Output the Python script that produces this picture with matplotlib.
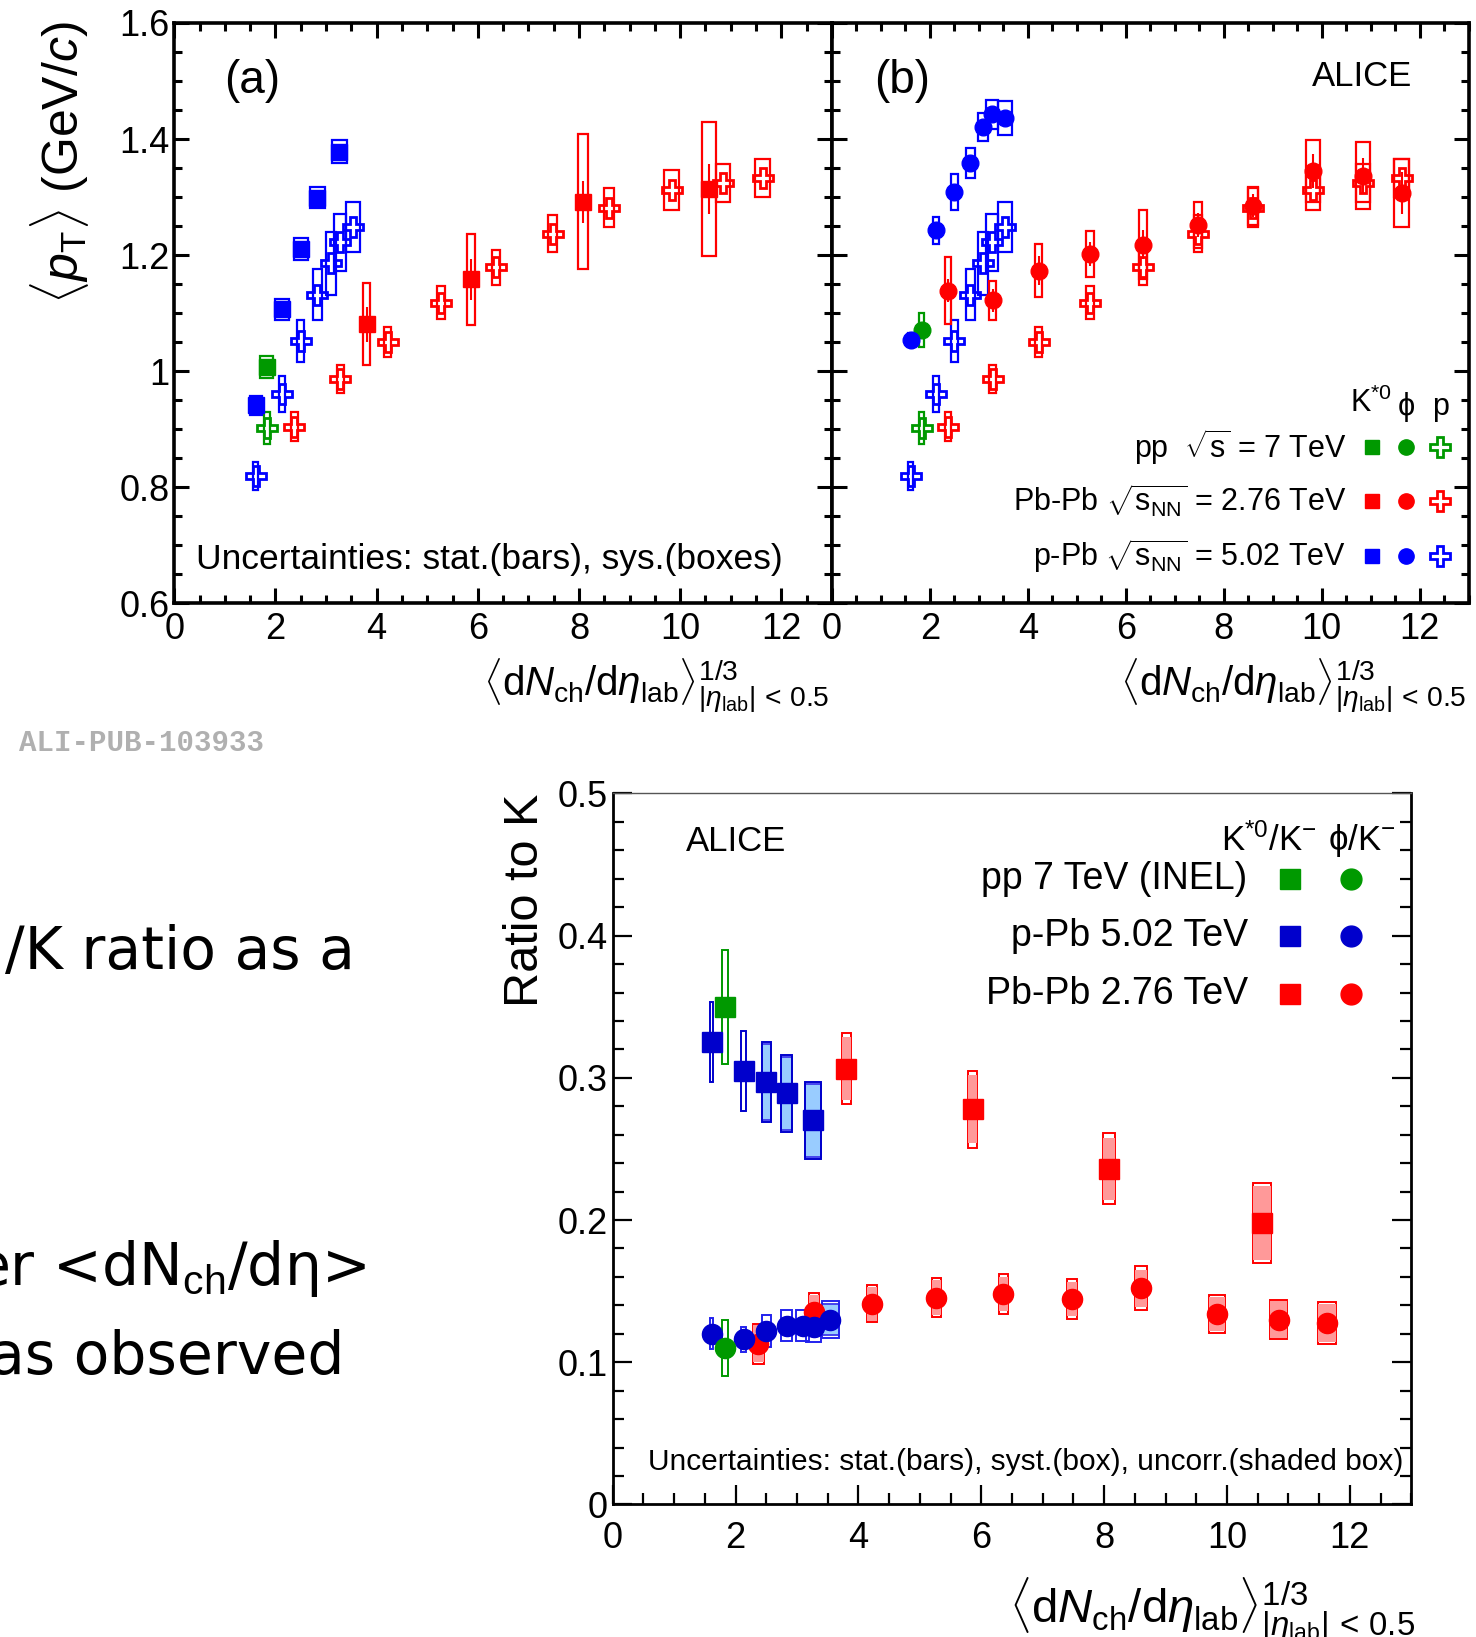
import numpy as np
import matplotlib
matplotlib.use("Agg")
import matplotlib.pyplot as plt
from matplotlib.patches import Rectangle
from matplotlib.ticker import MultipleLocator, FuncFormatter

plt.rcParams['font.family'] = ['Liberation Sans', 'DejaVu Sans']
plt.rcParams['mathtext.fontset'] = 'custom'
plt.rcParams['mathtext.rm'] = 'Liberation Sans'
plt.rcParams['mathtext.it'] = 'Liberation Sans:italic'
plt.rcParams['mathtext.bf'] = 'Liberation Sans:bold'

# ---------------- data: <pT> vs multiplicity ----------------
# x = <dNch/deta>^(1/3)
pp_x = [1.83]
pPb_x = [1.61, 2.13, 2.50, 2.83, 3.09, 3.27, 3.54]
pPb_xK = [1.61, 2.13, 2.50, 2.83, 3.26]
PbPb_x = [2.37, 3.28, 4.22, 5.27, 6.36, 7.48, 8.60, 9.83, 10.84, 11.63]
PbPb_xK = [3.80, 5.86, 8.08, 10.57]

# x systematic half-widths (multiplicity uncertainty)
pp_dx = [0.06]
pp_dxK = [0.13]
pPb_dx = [0.05, 0.06, 0.07, 0.09, 0.10, 0.12, 0.14]
pPb_dxK = [0.12, 0.13, 0.14, 0.14, 0.15]
PbPb_dx = [0.07, 0.07, 0.07, 0.075, 0.08, 0.085, 0.10, 0.14, 0.14, 0.15]
PbPb_dxK = [0.075, 0.08, 0.105, 0.14]

# K*0 <pT>
pp_K = [1.008]
pp_K_sys = [0.019]
pPb_K = [0.941, 1.107, 1.210, 1.299, 1.378]
pPb_K_sys = [0.017, 0.018, 0.019, 0.018, 0.020]
PbPb_K = [1.081, 1.158, 1.292, 1.314]
PbPb_K_sys = [0.071, 0.078, 0.116, 0.115]
PbPb_K_stat = [0.030, 0.035, 0.036, 0.043]

# phi <pT>
pp_phi = [1.071]
pp_phi_sys = [0.030]
pPb_phi = [1.054, 1.243, 1.309, 1.358, 1.421, 1.443, 1.436]
pPb_phi_sys = [0.012, 0.023, 0.031, 0.026, 0.024, 0.025, 0.029]
PbPb_phi = [1.139, 1.122, 1.173, 1.202, 1.218, 1.252, 1.285, 1.345, 1.337, 1.307]
PbPb_phi_sys = [0.057, 0.034, 0.046, 0.039, 0.059, 0.040, 0.033, 0.053, 0.057, 0.059]
PbPb_phi_stat = [0.020, 0.020, 0.025, 0.020, 0.025, 0.020, 0.020, 0.030, 0.030, 0.037]

# proton <pT>
pp_p = [0.902]
pp_p_sys = [0.028]
pPb_p = [0.820, 0.961, 1.052, 1.132, 1.186, 1.222, 1.249]
pPb_p_sys = [0.024, 0.031, 0.036, 0.044, 0.054, 0.049, 0.043]
PbPb_p = [0.904, 0.987, 1.050, 1.118, 1.179, 1.237, 1.282, 1.312, 1.324, 1.333]
PbPb_p_sys = [0.025, 0.024, 0.026, 0.028, 0.030, 0.032, 0.033, 0.034, 0.033, 0.033]

# ---------------- data: ratios to K ----------------
pp_Kr = [0.350]
pp_Kr_sys = [0.040]
pp_phr = [0.110]
pp_phr_sys = [0.020]
pp_rdx = [0.05]

pPb_Kr = [0.325, 0.305, 0.297, 0.289, 0.270]
pPb_Kr_sys = [0.028, 0.028, 0.028, 0.027, 0.027]
pPb_Kr_unc = [0.0, 0.0, 0.027, 0.026, 0.026]
pPb_Kr_dx = [0.03, 0.045, 0.07, 0.09, 0.125]

pPb_phr = [0.120, 0.116, 0.122, 0.1256, 0.1256, 0.125, 0.130]
pPb_phr_sys = [0.011, 0.009, 0.011, 0.011, 0.011, 0.011, 0.013]
pPb_phr_unc = [0.0, 0.0, 0.0, 0.0, 0.0, 0.0, 0.011]
pPb_phr_dx = [0.03, 0.04, 0.07, 0.09, 0.11, 0.12, 0.14]

PbPb_Kr = [0.3065, 0.278, 0.236, 0.198]
PbPb_Kr_sys = [0.025, 0.027, 0.025, 0.028]
PbPb_Kr_unc = [0.022, 0.024, 0.022, 0.026]
PbPb_Kr_dx = [0.072, 0.072, 0.10, 0.14]

PbPb_phr = [0.113, 0.135, 0.141, 0.1455, 0.148, 0.1445, 0.152, 0.134, 0.130, 0.1275]
PbPb_phr_sys = [0.014, 0.014, 0.013, 0.014, 0.014, 0.014, 0.0155, 0.0135, 0.014, 0.0145]
PbPb_phr_unc = [0.013, 0.012, 0.012, 0.012, 0.012, 0.012, 0.013, 0.012, 0.013, 0.0135]
PbPb_phr_dx = [0.085, 0.08, 0.075, 0.075, 0.08, 0.085, 0.10, 0.13, 0.14, 0.145]

# colours
BLUE, GREEN, RED = '#0000ff', '#009900', '#ff0000'
DBLUE = '#0000cc'
LBLUE, LRED = '#99ccff', '#ff9999'


def boxes(ax, x, y, dx, dy, ec, fc='none', lw=1.6, z=2):
    for xi, yi, a, b in zip(x, y, dx, dy):
        if b <= 0:
            continue
        ax.add_patch(Rectangle((xi - a, yi - b), 2 * a, 2 * b, facecolor=fc,
                               edgecolor=ec, lw=lw, zorder=z))


def style(ax, xminor, ymajor, yminor, lw, maj, mnr, size):
    ax.set_xlim(0, 13)
    ax.xaxis.set_major_locator(MultipleLocator(2))
    ax.xaxis.set_minor_locator(MultipleLocator(xminor))
    ax.yaxis.set_major_locator(MultipleLocator(ymajor))
    ax.yaxis.set_minor_locator(MultipleLocator(yminor))
    ax.yaxis.set_major_formatter(FuncFormatter(lambda v, p: '%g' % round(v, 3)))
    ax.tick_params(which='both', direction='in', top=True, right=True, width=lw)
    ax.tick_params(which='major', length=maj, labelsize=size)
    ax.tick_params(which='minor', length=mnr)
    for s in ax.spines.values():
        s.set_linewidth(lw + 0.4)


fig = plt.figure(figsize=(14.76, 16.37), dpi=100)

ax_a = fig.add_axes([0.1181, 0.6314, 0.4455, 0.3546])
ax_b = fig.add_axes([0.5636, 0.6314, 0.4314, 0.3546])
ax_c = fig.add_axes([0.4151, 0.0810, 0.5411, 0.4343])

for ax in (ax_a, ax_b):
    ax.set_ylim(0.6, 1.6)
    style(ax, 0.5, 0.2, 0.05, 2.2, 11, 6, 26)
    ax.tick_params(axis='x', pad=6)
ax_b.tick_params(axis='y', labelleft=False)

# protons in both top panels
for ax in (ax_a, ax_b):
    boxes(ax, pp_x, pp_p, pp_dx, pp_p_sys, GREEN)
    boxes(ax, pPb_x, pPb_p, pPb_dx, pPb_p_sys, BLUE)
    boxes(ax, PbPb_x, PbPb_p, PbPb_dx, PbPb_p_sys, RED)
    ax.plot(pp_x, pp_p, 'P', ms=14, mfc='none', mec=GREEN, mew=2, zorder=4)
    ax.plot(pPb_x, pPb_p, 'P', ms=14, mfc='none', mec=BLUE, mew=2, zorder=4)
    ax.plot(PbPb_x, PbPb_p, 'P', ms=14, mfc='none', mec=RED, mew=2, zorder=4)

# (a) K*0
boxes(ax_a, pp_x, pp_K, pp_dxK, pp_K_sys, GREEN)
boxes(ax_a, pPb_xK, pPb_K, pPb_dxK, pPb_K_sys, BLUE)
boxes(ax_a, PbPb_xK, PbPb_K, PbPb_dxK, PbPb_K_sys, RED)
ax_a.errorbar(PbPb_xK, PbPb_K, yerr=PbPb_K_stat, fmt='none', ecolor=RED, elinewidth=1.5, zorder=3)
ax_a.plot(pp_x, pp_K, 's', ms=11, color=GREEN, zorder=5)
ax_a.plot(pPb_xK, pPb_K, 's', ms=11, color=BLUE, zorder=5)
ax_a.plot(PbPb_xK, PbPb_K, 's', ms=11, color=RED, zorder=5)

# (b) phi
boxes(ax_b, pp_x, pp_phi, pp_dx, pp_phi_sys, GREEN)
boxes(ax_b, pPb_x, pPb_phi, pPb_dx, pPb_phi_sys, BLUE)
boxes(ax_b, PbPb_x, PbPb_phi, PbPb_dx, PbPb_phi_sys, RED)
ax_b.errorbar(PbPb_x, PbPb_phi, yerr=PbPb_phi_stat, fmt='none', ecolor=RED, elinewidth=1.5, zorder=3)
ax_b.plot(pp_x, pp_phi, 'o', ms=12, color=GREEN, zorder=5)
ax_b.plot(pPb_x, pPb_phi, 'o', ms=12, color=BLUE, zorder=5)
ax_b.plot(PbPb_x, PbPb_phi, 'o', ms=12, color=RED, zorder=5)

ax_a.text(0.119, 0.90, '(a)', transform=ax_a.transAxes, fontsize=33, va='center', ha='center')
ax_b.text(0.111, 0.90, '(b)', transform=ax_b.transAxes, fontsize=33, va='center', ha='center')
ax_b.text(0.833, 0.908, 'ALICE', transform=ax_b.transAxes, fontsize=25, ha='center', va='center')
ax_a.text(0.033, 0.075, 'Uncertainties: stat.(bars), sys.(boxes)', transform=ax_a.transAxes,
          fontsize=25.5, ha='left', va='center')

# legend of panel (b)
lx = [0.8475, 0.9016, 0.9557]
ly = [0.2698, 0.1763, 0.0809]
ax_b.text(0.808, ly[0], r'pp  $\sqrt{\mathrm{s}}$ = 7 TeV', transform=ax_b.transAxes, fontsize=22, ha='right', va='center')
ax_b.text(0.808, ly[1], r'Pb-Pb $\sqrt{\mathrm{s}_{\rm NN}}$ = 2.76 TeV', transform=ax_b.transAxes, fontsize=22, ha='right', va='center')
ax_b.text(0.808, ly[2], r'p-Pb $\sqrt{\mathrm{s}_{\rm NN}}$ = 5.02 TeV', transform=ax_b.transAxes, fontsize=22, ha='right', va='center')
ax_b.text(lx[0], 0.345, r'K$^{*0}$', transform=ax_b.transAxes, fontsize=22, ha='center', va='center')
ax_b.text(lx[1], 0.338, 'ϕ', transform=ax_b.transAxes, fontsize=22, ha='center', va='center')
ax_b.text(lx[2], 0.338, 'p', transform=ax_b.transAxes, fontsize=22, ha='center', va='center')
for yy, cc in zip(ly, [GREEN, RED, BLUE]):
    ax_b.plot([lx[0]], [yy], 's', ms=10, color=cc, transform=ax_b.transAxes, clip_on=False)
    ax_b.plot([lx[1]], [yy], 'o', ms=11, color=cc, transform=ax_b.transAxes, clip_on=False)
    ax_b.plot([lx[2]], [yy], 'P', ms=14, mfc='none', mec=cc, mew=2, transform=ax_b.transAxes, clip_on=False)

xlab = r'$\langle {\rm d}N_{\rm ch}/{\rm d}\eta_{\rm lab}\rangle^{1/3}_{|\eta_{\rm lab}|\,<\,0.5}$'
fig.text(0.5622, 0.574, xlab, fontsize=29, ha='right', va='baseline')
fig.text(0.9936, 0.574, xlab, fontsize=29, ha='right', va='baseline')
fig.text(0.040, 0.987, r'$\langle p_{\rm T}\rangle$ (GeV/$c$)', fontsize=36, rotation=90, ha='center', va='top')

# ---------------- bottom panel: ratios ----------------
ax_c.set_ylim(0, 0.5)
style(ax_c, 0.5, 0.1, 0.02, 1.6, 14, 8, 26)
ax_c.tick_params(which='both', top=False)
ax_c.spines['top'].set_linewidth(1.0)
ax_c.spines['top'].set_color('#555555')
ax_c.tick_params(axis='x', pad=12)

boxes(ax_c, pp_x, pp_Kr, pp_rdx, pp_Kr_sys, GREEN, lw=1.4)
boxes(ax_c, pp_x, pp_phr, pp_rdx, pp_phr_sys, GREEN, lw=1.4)
boxes(ax_c, pPb_xK, pPb_Kr, pPb_Kr_dx, pPb_Kr_unc, '#4444ee', fc=LBLUE, lw=1.4)
boxes(ax_c, pPb_xK, pPb_Kr, pPb_Kr_dx, pPb_Kr_sys, DBLUE, lw=1.4)
boxes(ax_c, pPb_x, pPb_phr, pPb_phr_dx, pPb_phr_unc, '#4444ee', fc=LBLUE, lw=1.4)
boxes(ax_c, pPb_x, pPb_phr, pPb_phr_dx, pPb_phr_sys, '#2222ee', lw=1.4)
boxes(ax_c, PbPb_xK, PbPb_Kr, PbPb_Kr_dx, PbPb_Kr_sys, RED, lw=1.4)
boxes(ax_c, PbPb_xK, PbPb_Kr, PbPb_Kr_dx, PbPb_Kr_unc, 'none', fc=LRED, lw=1.4)
boxes(ax_c, PbPb_x, PbPb_phr, PbPb_phr_dx, PbPb_phr_sys, RED, lw=1.4)
boxes(ax_c, PbPb_x, PbPb_phr, PbPb_phr_dx, PbPb_phr_unc, 'none', fc=LRED, lw=1.4)

ax_c.plot(pp_x, pp_Kr, 's', ms=14, color=GREEN, zorder=5)
ax_c.plot(pPb_xK, pPb_Kr, 's', ms=14, color=DBLUE, zorder=5)
ax_c.plot(PbPb_xK, PbPb_Kr, 's', ms=14, color=RED, zorder=5)
ax_c.plot(PbPb_x, PbPb_phr, 'o', ms=14.5, color=RED, zorder=5)
ax_c.plot(pPb_x, pPb_phr, 'o', ms=14.5, color=DBLUE, zorder=6)
ax_c.plot(pp_x, pp_phr, 'o', ms=14.5, color=GREEN, zorder=6)

ax_c.text(0.154, 0.932, 'ALICE', transform=ax_c.transAxes, fontsize=25, ha='center', va='center')
ax_c.text(0.821, 0.934, r'K$^{*0}$/K$^{-}$', transform=ax_c.transAxes, fontsize=25, ha='center', va='center')
ax_c.text(0.9386, 0.934, r'ϕ/K$^{-}$', transform=ax_c.transAxes, fontsize=25, ha='center', va='center')
rlx = [0.848, 0.925]
rly = [0.8796, 0.7988, 0.718]
for yy, lab, cc in zip(rly, ['pp 7 TeV (INEL)', 'p-Pb 5.02 TeV', 'Pb-Pb 2.76 TeV'], [GREEN, DBLUE, RED]):
    ax_c.text(0.795, yy, lab, transform=ax_c.transAxes, fontsize=27, ha='right', va='center')
    ax_c.plot([rlx[0]], [yy], 's', ms=15, color=cc, transform=ax_c.transAxes, clip_on=False)
    ax_c.plot([rlx[1]], [yy], 'o', ms=15, color=cc, transform=ax_c.transAxes, clip_on=False)
ax_c.text(0.99, 0.06, 'Uncertainties: stat.(bars), syst.(box), uncorr.(shaded box)',
          transform=ax_c.transAxes, fontsize=21.5, ha='right', va='center')

fig.text(0.3557, 0.515, 'Ratio to K', fontsize=35, rotation=90, ha='center', va='top')
fig.text(0.959, 0.008, r'$\langle {\rm d}N_{\rm ch}/{\rm d}\eta_{\rm lab}\rangle^{1/3}_{|\eta_{\rm lab}|\,<\,0.5}$',
         fontsize=34, ha='right', va='baseline')

# watermark and slide text fragments
fig.text(0.0127, 0.546, 'ALI-PUB-103933', fontsize=21, family='Liberation Mono', weight='bold',
         color='#b0b0b0', ha='left', va='center')
fig.text(0.2405, 0.4184, '/K ratio as a', fontsize=42, family='DejaVu Sans', ha='right', va='center')
fig.text(0.2475, 0.225, 'er <dN$_{\\rm ch}$/dη>', fontsize=42, family='DejaVu Sans', ha='right', va='center')
fig.text(0.2334, 0.171, 'as observed', fontsize=42, family='DejaVu Sans', ha='right', va='center')

fig.savefig('out.png', dpi=100)
